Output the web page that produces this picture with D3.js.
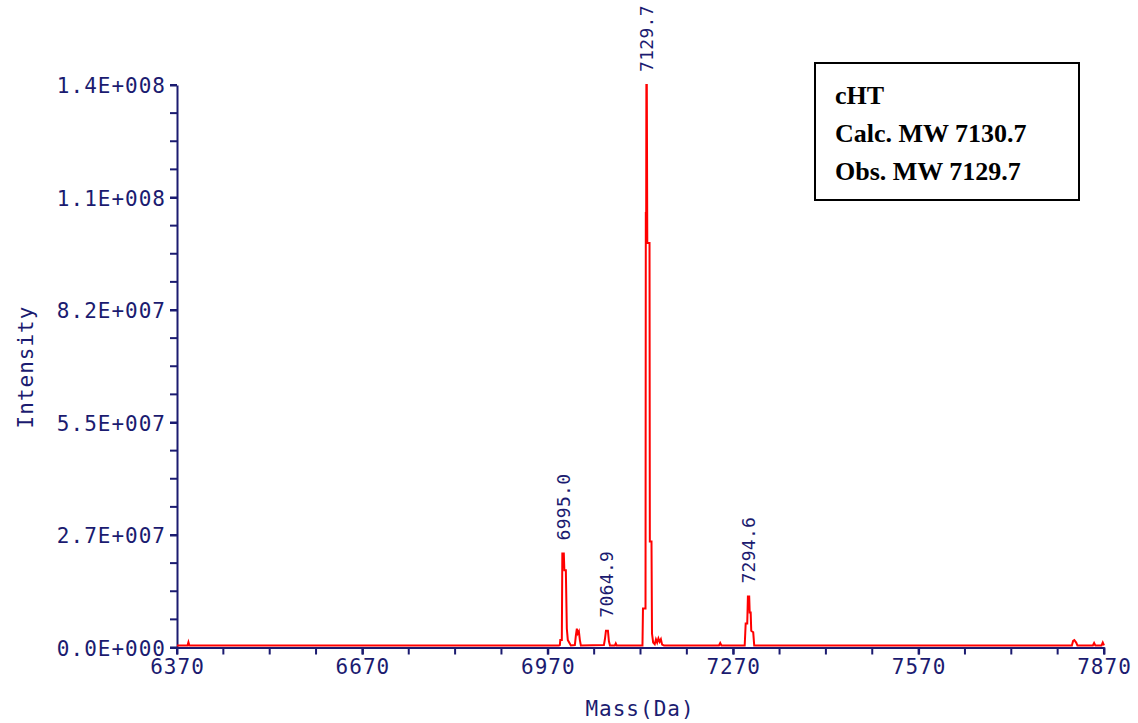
<!DOCTYPE html>
<html>
<head>
<meta charset="utf-8">
<script src="https://cdn.jsdelivr.net/npm/d3@7"></script>
<style>
  html, body { margin: 0; padding: 0; background: #fff; }
  svg { display: block; }
</style>
</head>
<body>
<div id="chart"></div>
<script>
// ---------- DATA ----------
const spectrumMass = [
  6370, 6387, 6388.5, 6390, 6988,
  6989.5, 6990.2, 6992.7, 6993.5, 6995.9, 6996.8, 6999.2, 7000.8, 7002.4, 7007.3,
  7013.8, 7015.4, 7017.0, 7018.6, 7020.3, 7021.9, 7023.5,
  7060.8, 7062.4, 7064.1, 7067.3, 7068.9, 7070.6, 7078.5, 7080, 7081.5,
  7123.2, 7124.0, 7128.1, 7128.6, 7129.2, 7129.5, 7130.2, 7131.0, 7132.1, 7134.6, 7135.1, 7137.8, 7138.6,
  7140.5, 7143, 7145, 7147, 7149, 7151, 7153, 7155, 7158,
  7247, 7249, 7251,
  7288.6, 7290.2, 7292.7, 7293.8, 7295.9, 7296.7, 7298.3, 7299.2, 7302.4, 7304.0,
  7818, 7820, 7822, 7825, 7827, 7852, 7854, 7856, 7866, 7868, 7870
];
const spectrumIntensity = [
  0.5e6, 0.5e6, 1.3e6, 0.5e6, 0.5e6,
  0.6e6, 1.8e6, 1.8e6, 22.9e6, 22.9e6, 18.8e6, 18.8e6, 4.6e6, 1.8e6, 0.5e6,
  0.6e6, 2.9e6, 4.6e6, 3.4e6, 3.9e6, 1.8e6, 0.5e6,
  0.6e6, 2.0e6, 4.1e6, 4.1e6, 1.5e6, 0.5e6, 0.5e6, 1.0e6, 0.5e6,
  0.5e6, 9.5e6, 9.5e6, 105.8e6, 105.8e6, 137e6, 137e6, 98.5e6, 98.5e6, 98.5e6, 25.8e6, 25.8e6, 3.4e6,
  1.2e6, 0.8e6, 2.0e6, 1.2e6, 2.2e6, 1.4e6, 2.0e6, 0.7e6, 0.5e6,
  0.5e6, 1.1e6, 0.5e6,
  0.5e6, 5.85e6, 5.85e6, 12.4e6, 12.4e6, 8.5e6, 8.5e6, 4.1e6, 3.7e6, 0.5e6,
  0.5e6, 1.6e6, 1.8e6, 1.2e6, 0.5e6, 0.5e6, 1.1e6, 0.5e6, 0.5e6, 1.2e6, 0.5e6
];

const peakMass = [6995.0, 7064.9, 7129.7, 7294.6];
const peakHeight = [22.9e6, 4.1e6, 137e6, 12.4e6];
const peakLabels = ["6995.0", "7064.9", "7129.7", "7294.6"];

const xTickValues = [6370, 6670, 6970, 7270, 7570, 7870];
const xTickLabels = ["6370", "6670", "6970", "7270", "7570", "7870"];
const yTickValues = [0, 27.4e6, 54.8e6, 82.2e6, 109.6e6, 137e6];
const yTickLabels = ["0.0E+000", "2.7E+007", "5.5E+007", "8.2E+007", "1.1E+008", "1.4E+008"];

const xTitle = "Mass(Da)";
const yTitle = "Intensity";
const legendLines = ["cHT", "Calc. MW 7130.7", "Obs. MW 7129.7"];

// ---------- LAYOUT ----------
const W = 1138, H = 723;
const navy = "#1b1b70";
const red = "#ff0000";
const monoFont = "'DejaVu Sans Mono', monospace";

const x = d3.scaleLinear().domain([6370, 7870]).range([177, 1104]);
const y = d3.scaleLinear().domain([0, 137e6]).range([647.5, 85]);

const svg = d3.select("#chart").append("svg")
  .attr("width", W).attr("height", H);

// minor ticks
const xMinor = d3.range(6370, 7870.1, 75);
const yMinor = d3.range(0, 137e6 + 1, 137e6 / 20);

svg.append("g").selectAll("line").data(xMinor).join("line")
  .attr("x1", d => x(d)).attr("x2", d => x(d))
  .attr("y1", y(0)).attr("y2", y(0) + 7)
  .attr("stroke", navy).attr("stroke-width", 2);

svg.append("g").selectAll("line").data(yMinor).join("line")
  .attr("x1", x(6370) - 7).attr("x2", x(6370))
  .attr("y1", d => y(d)).attr("y2", d => y(d))
  .attr("stroke", navy).attr("stroke-width", 2);

// axes
const xAxis = d3.axisBottom(x).tickValues(xTickValues)
  .tickFormat((d, i) => xTickLabels[i]).tickSize(7).tickSizeOuter(0).tickPadding(3);
const yAxis = d3.axisLeft(y).tickValues(yTickValues)
  .tickFormat((d, i) => yTickLabels[i]).tickSize(7).tickSizeOuter(0).tickPadding(4);

const gx = svg.append("g").attr("transform", `translate(0,${y(0)})`).call(xAxis);
const gy = svg.append("g").attr("transform", `translate(${x(6370)},0)`).call(yAxis);

[gx, gy].forEach(g => {
  g.select(".domain").attr("stroke", navy).attr("stroke-width", 2);
  g.selectAll(".tick line").attr("stroke", navy).attr("stroke-width", 2);
  g.selectAll(".tick text")
    .attr("fill", navy)
    .style("font-family", monoFont)
    .style("font-size", "21px")
    .style("letter-spacing", "1px");
});
gx.selectAll(".tick text").attr("dy", "0.8em");
gy.selectAll(".tick text").attr("dy", "0.36em");

// spectrum line
const pts = spectrumMass.map((m, i) => [m, spectrumIntensity[i]]);
const line = d3.line().x(d => x(d[0])).y(d => y(d[1]));
svg.append("path")
  .datum(pts)
  .attr("d", line)
  .attr("fill", "none")
  .attr("stroke", red)
  .attr("stroke-width", 2)
  .attr("stroke-linejoin", "miter");

// peak labels (vertical)
svg.append("g").selectAll("text").data(peakLabels).join("text")
  .attr("transform", (d, i) => `translate(${x(peakMass[i])},${y(peakHeight[i]) - 13}) rotate(-90)`)
  .attr("dy", "0.36em")
  .attr("text-anchor", "start")
  .attr("fill", navy)
  .style("font-family", monoFont)
  .style("font-size", "18px")
  .style("letter-spacing", "0.3px")
  .text(d => d);

// axis titles
svg.append("text")
  .attr("x", 640).attr("y", 716)
  .attr("text-anchor", "middle")
  .attr("fill", navy)
  .style("font-family", monoFont)
  .style("font-size", "21px")
  .style("letter-spacing", "1px")
  .text(xTitle);

svg.append("text")
  .attr("transform", "translate(25,367) rotate(-90)")
  .attr("dy", "0.36em")
  .attr("text-anchor", "middle")
  .attr("fill", navy)
  .style("font-family", monoFont)
  .style("font-size", "21px")
  .style("letter-spacing", "1px")
  .text(yTitle);

// legend box
svg.append("rect")
  .attr("x", 815).attr("y", 63).attr("width", 264).attr("height", 137)
  .attr("fill", "#fff").attr("stroke", "#000").attr("stroke-width", 2);

svg.append("g").selectAll("text").data(legendLines).join("text")
  .attr("x", 835)
  .attr("y", (d, i) => 104 + i * 38)
  .attr("fill", "#000")
  .style("font-family", "'Liberation Serif', 'Times New Roman', serif")
  .style("font-weight", "bold")
  .style("font-size", "26px")
  .text(d => d);
</script>
</body>
</html>
